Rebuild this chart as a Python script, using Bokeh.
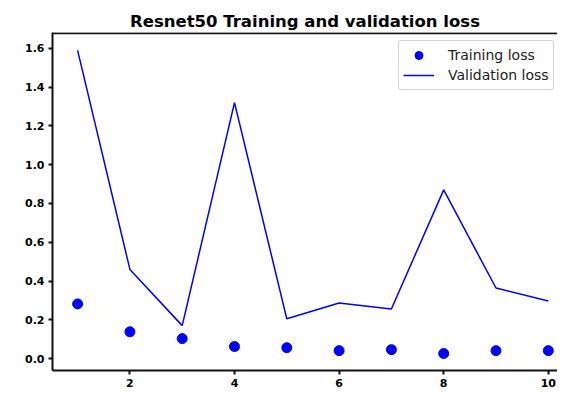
from bokeh.plotting import figure
from bokeh.models import Range1d, FixedTicker, Legend, LegendItem, Span, NumeralTickFormatter
from bokeh.embed import file_html
from bokeh.resources import INLINE

epochs = [1, 2, 3, 4, 5, 6, 7, 8, 9, 10]
training_loss = [0.282, 0.138, 0.103, 0.062, 0.056, 0.041, 0.046, 0.026, 0.041, 0.041]
validation_loss = [1.59, 0.46, 0.17, 1.32, 0.205, 0.287, 0.256, 0.87, 0.364, 0.297]
x_ticks = [2, 4, 6, 8, 10]
y_ticks = [0.0, 0.2, 0.4, 0.6, 0.8, 1.0, 1.2, 1.4, 1.6]

x_start, x_end = 0.52, 10.176
y_start, y_end = -0.0615, 1.682

p = figure(frame_width=505, frame_height=338, output_backend="svg", toolbar_location=None,
           x_range=Range1d(x_start, x_end), y_range=Range1d(y_start, y_end),
           title="Resnet50 Training and validation loss",
           min_border_left=52, min_border_right=0, min_border_bottom=22, min_border_top=32)
p.title.align = "center"
p.title.text_font = "DejaVu Sans"
p.title.text_font_size = "16.5px"
p.title.text_font_style = "bold"
p.title.text_color = "black"
p.title.standoff = 4
p.grid.visible = False
p.outline_line_color = None
p.background_fill_color = "white"
p.border_fill_color = "white"

for ax in (p.xaxis[0], p.yaxis[0]):
    ax.axis_line_color = "#111111"
    ax.axis_line_width = 2
    ax.major_tick_line_color = "#111111"
    ax.major_tick_line_width = 2
    ax.minor_tick_line_color = None
    ax.major_tick_out = 4
    ax.major_tick_in = 0
    ax.major_label_standoff = 4
    ax.major_label_text_font = "DejaVu Sans"
    ax.major_label_text_font_size = "11px"
    ax.major_label_text_font_style = "bold"
    ax.major_label_text_color = "black"
p.xaxis[0].ticker = FixedTicker(ticks=x_ticks)
p.yaxis[0].ticker = FixedTicker(ticks=y_ticks)
p.yaxis[0].formatter = NumeralTickFormatter(format="0.0")

p.add_layout(Span(location=y_end - 0.004, dimension="width", line_color="#111111", line_width=2))

r1 = p.scatter(epochs, training_loss, size=10, color="#0000ff")
r2 = p.line(epochs, validation_loss, line_width=1.5, color="#0000ff")

legend = Legend(items=[LegendItem(label="Training loss", renderers=[r1]),
                       LegendItem(label="Validation loss", renderers=[r2])],
                location=(346, 280))
legend.label_text_font = "DejaVu Sans"
legend.label_text_font_size = "14px"
legend.label_text_color = "#222222"
legend.border_line_color = "#aaaaaa"
legend.border_line_width = 1.5
legend.border_radius = 3
legend.spacing = 0
legend.padding = 4
legend.margin = 0
legend.glyph_width = 31
legend.glyph_height = 20
legend.label_height = 20
legend.label_standoff = 14
p.add_layout(legend, "center")

open("out.html", "w").write(file_html(p, INLINE))
